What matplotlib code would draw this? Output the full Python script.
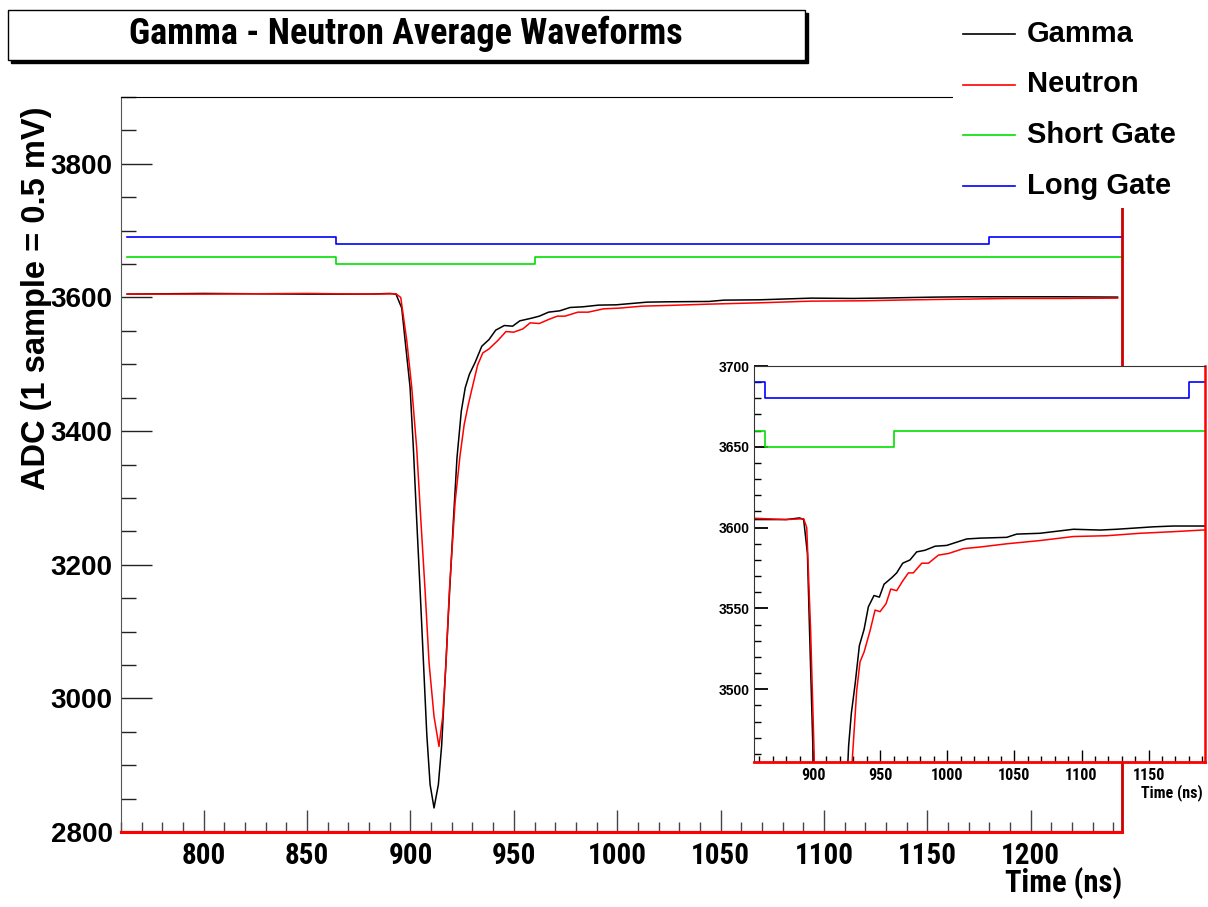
import matplotlib
matplotlib.use("Agg")
import matplotlib.pyplot as plt
from matplotlib.patches import Rectangle
from matplotlib.lines import Line2D
from matplotlib.ticker import MultipleLocator

W, H = 1208, 907

# --- data ---
gamma_t = [763, 800, 850, 880, 890, 893, 895.8, 897.4, 899.8, 901.4, 903, 904.7, 906.3,
           907.9, 909.5, 911.4, 913.5, 915.1, 916.7, 918.3, 920.8, 922.5, 924.6, 926.5,
           928.5, 931.3, 934.5, 938, 941.2, 945.4, 949.4, 952.9, 958.6, 962.3, 966.8,
           972.2, 977.2, 983.4, 990.9, 999.6, 1007, 1014.5, 1024.4, 1044.3, 1051.7,
           1069, 1094, 1113.8, 1126.3, 1153.5, 1168.4, 1190, 1215, 1242]
gamma_v = [3605, 3606, 3605, 3605, 3606, 3605, 3584, 3536, 3466, 3375, 3268, 3160, 3053,
           2946, 2871, 2836, 2871, 2930, 3026, 3123, 3268, 3360, 3430, 3465,
           3485, 3503, 3527, 3537, 3551, 3558, 3557, 3565, 3569, 3572, 3578,
           3580, 3585, 3586, 3588.5, 3589, 3591, 3593, 3593.5, 3594, 3596,
           3596.5, 3599, 3598.5, 3599, 3600.5, 3601, 3601, 3601, 3600.5]

neutron_t = [763, 800, 850, 880, 893, 895.3, 898.2, 900.6, 903, 905, 907.1, 909, 911.4,
             913.8, 915.6, 917.2, 918.8, 921.6, 924, 926, 928, 929.5, 932.5, 935, 938,
             942.4, 946.2, 949.9, 954.4, 957.9, 962.3, 966.8, 971, 974.7, 981, 986,
             993.4, 1000.9, 1012, 1024.4, 1044.3, 1069, 1094, 1118.8, 1143.6, 1168.4,
             1190, 1215, 1242]
neutron_v = [3605, 3605, 3606, 3605, 3605.5, 3600, 3536, 3466, 3375, 3268, 3160, 3053, 2973,
             2928, 2973, 3053, 3160, 3294, 3364, 3410, 3440, 3460, 3499, 3517, 3523,
             3536, 3549, 3548, 3553, 3562, 3561, 3567, 3572, 3572, 3578, 3578,
             3583, 3584, 3587, 3588, 3590, 3592, 3594.5, 3595, 3596.5, 3597.5,
             3598.5, 3598.5, 3599]

short_t = [763, 864, 960, 1244]
short_v = [3660, 3650, 3660, 3660]
long_t = [763, 864, 1180, 1244]
long_v = [3690, 3680, 3690, 3690]

LABELS = ["Gamma", "Neutron", "Short Gate", "Long Gate"]
COLORS = ["black", "#ff0000", "#00e000", "#0000ff"]

BOLD = ["Liberation Sans", "DejaVu Sans"]
NARROW = ["Roboto Condensed", "Archivo Narrow", "Liberation Sans", "DejaVu Sans"]


def fx(x):
    return x / W


def fy(y):
    return 1 - y / H


def draw_series(ax):
    ax.step(short_t, short_v, where="post", color=COLORS[2], lw=1.2)
    ax.step(long_t, long_v, where="post", color=COLORS[3], lw=1.2)
    ax.plot(gamma_t, gamma_v, color=COLORS[0], lw=1.1)
    ax.plot(neutron_t, neutron_v, color=COLORS[1], lw=1.1)


fig = plt.figure(figsize=(W / 100, H / 100), dpi=100)

# main axes
ax = fig.add_axes([fx(121), fy(832), fx(1121.7) - fx(121), fy(97) - fy(832)])
draw_series(ax)
ax.set_xlim(760, 1244)
ax.set_ylim(2800, 3900)
ax.axhline(2800, color="#ff0000", lw=2.2, zorder=4, clip_on=False)
ax.xaxis.set_major_locator(MultipleLocator(50))
ax.xaxis.set_minor_locator(MultipleLocator(10))
ax.yaxis.set_major_locator(MultipleLocator(200))
ax.yaxis.set_minor_locator(MultipleLocator(50))
ax.tick_params(axis="y", which="major", direction="in", length=22, width=1, pad=6,
               color="#222222")
ax.tick_params(axis="y", which="minor", direction="in", length=11, width=1, color="#222222")
ax.tick_params(axis="x", which="major", direction="in", length=15.5, width=1, pad=7,
               color="#444444")
ax.tick_params(axis="x", which="minor", direction="in", length=7, width=1, color="#444444")
for lab in ax.get_yticklabels():
    lab.set_fontfamily(BOLD); lab.set_fontweight("bold"); lab.set_fontsize(20)
for lab in ax.get_xticklabels():
    lab.set_fontfamily(NARROW); lab.set_fontweight("bold"); lab.set_fontsize(21)
ax.spines["left"].set_color("#555555")
ax.spines["top"].set_color("black")
ax.spines["right"].set_color("#cc0000")
ax.spines["right"].set_linewidth(2)
ax.spines["bottom"].set_color("black")
ax.spines["bottom"].set_linewidth(1.5)

fig.text(fx(1122), fy(883), "Time (ns)", ha="right", va="center", fontsize=22,
         fontweight="bold", family=NARROW)
fig.text(fx(37), fy(298), "ADC (1 sample = 0.5 mV)", rotation=90, ha="center",
         va="center", fontsize=23.5, fontweight="bold", family=BOLD)

# inset
ins = fig.add_axes([fx(754), fy(762), fx(1205) - fx(754), fy(366) - fy(762)])
draw_series(ins)
ins.set_xlim(856, 1192)
ins.set_ylim(3455, 3700)
ins.axhline(3455, color="#ff0000", lw=2, zorder=4, clip_on=False)
ins.xaxis.set_major_locator(MultipleLocator(50))
ins.xaxis.set_minor_locator(MultipleLocator(10))
ins.yaxis.set_major_locator(MultipleLocator(50))
ins.yaxis.set_minor_locator(MultipleLocator(10))
ins.tick_params(axis="y", which="major", direction="in", length=10, width=1.3, pad=3)
ins.tick_params(axis="y", which="minor", direction="in", length=5, width=1)
ins.tick_params(axis="x", which="major", direction="in", length=8.5, width=1, pad=4)
ins.tick_params(axis="x", which="minor", direction="in", length=4.3, width=1)
for lab in ins.get_yticklabels():
    lab.set_fontfamily(BOLD); lab.set_fontweight("bold"); lab.set_fontsize(10)
for lab in ins.get_xticklabels():
    lab.set_fontfamily(NARROW); lab.set_fontweight("bold"); lab.set_fontsize(11.5)
ins.spines["left"].set_color("#333333")
ins.spines["top"].set_color("#333333")
ins.spines["right"].set_color("#ff0000")
ins.spines["right"].set_linewidth(1.8)
fig.text(fx(1203), fy(793), "Time (ns)", ha="right", va="center", fontsize=11.5,
         fontweight="bold", family=NARROW)

# legend (no border, white fill over the frame)
fig.add_artist(Rectangle((fx(953), fy(208)), 1 - fx(953), fy(0) - fy(208),
                         transform=fig.transFigure, facecolor="white", edgecolor="none",
                         zorder=5))
for i, (lab, col) in enumerate(zip(LABELS, COLORS)):
    yy = fy(34 + 50.5 * i)
    fig.add_artist(Line2D([fx(963), fx(1015)], [yy, yy], transform=fig.transFigure,
                          color=col, lw=1.2, zorder=6))
    fig.text(fx(1027), yy, lab, ha="left", va="center", fontsize=21, fontweight="bold",
             family=BOLD, zorder=6)

# title box with shadow
fig.add_artist(Rectangle((fx(11), fy(63)), fx(797), fy(10) - fy(60),
                         transform=fig.transFigure, facecolor="black", edgecolor="black",
                         zorder=5))
fig.add_artist(Rectangle((fx(8), fy(60)), fx(797), fy(10) - fy(60),
                         transform=fig.transFigure, facecolor="white", edgecolor="black",
                         lw=1, zorder=6))
fig.text(fx(406), fy(34), "Gamma - Neutron Average Waveforms", ha="center", va="center",
         fontsize=26, fontweight="bold", family=NARROW, zorder=7)

fig.savefig("out.png", dpi=100)
